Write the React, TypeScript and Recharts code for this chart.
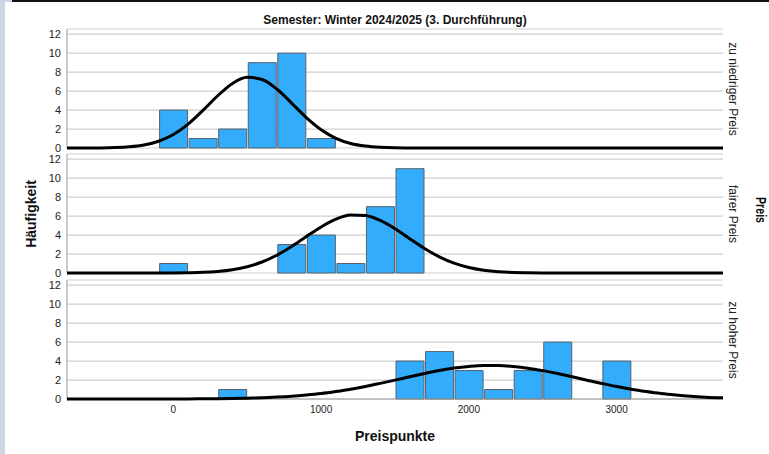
import { ComposedChart, LineChart, Bar, Line, XAxis, YAxis, CartesianGrid } from "recharts";

// bin centres (width 200) and counts per price group
const lowBins = [0, 200, 400, 600, 800, 1000];
const lowCounts = [4, 1, 2, 9, 10, 1];

const fairBins = [0, 800, 1000, 1200, 1400, 1600];
const fairCounts = [1, 3, 4, 1, 7, 11];

const highBins = [400, 1600, 1800, 2000, 2200, 2400, 2600, 3000];
const highCounts = [1, 4, 5, 3, 1, 3, 6, 4];

// normal curve overlay
const curveX = [
  -720, -600, -500, -400, -300, -200, -100, 0, 100, 200, 300, 400, 500, 600, 700,
  800, 900, 1000, 1100, 1200, 1300, 1400, 1500, 1600, 1700, 1800, 1900, 2000, 2100,
  2200, 2300, 2400, 2500, 2600, 2700, 2800, 2900, 3000, 3100, 3200, 3300, 3400, 3500,
  3600, 3720,
];
const lowCurve = [
  0, 0, 0.01, 0.04, 0.12, 0.31, 0.71, 1.42, 2.52, 3.96, 5.51, 6.81, 7.45, 7.23, 6.22,
  4.74, 3.2, 1.92, 1.02, 0.48, 0.2, 0.07, 0.02, 0.01, 0, 0, 0, 0, 0,
  0, 0, 0, 0, 0, 0, 0, 0, 0, 0, 0, 0, 0, 0,
  0, 0,
];
const fairCurve = [
  0, 0, 0, 0, 0, 0, 0, 0.01, 0.03, 0.07, 0.17, 0.35, 0.66, 1.16, 1.87,
  2.79, 3.84, 4.86, 5.68, 6.11, 6.06, 5.54, 4.67, 3.62, 2.59, 1.71, 1.04, 0.58, 0.3,
  0.14, 0.06, 0.03, 0.01, 0, 0, 0, 0, 0, 0, 0, 0, 0, 0,
  0, 0,
];
const highCurve = [
  0, 0, 0, 0, 0, 0, 0, 0.01, 0.01, 0.02, 0.03, 0.05, 0.09, 0.13, 0.2,
  0.29, 0.42, 0.58, 0.79, 1.03, 1.32, 1.65, 1.99, 2.35, 2.69, 3.0, 3.26, 3.44, 3.54,
  3.53, 3.43, 3.25, 2.99, 2.68, 2.34, 1.98, 1.64, 1.31, 1.02, 0.78, 0.57, 0.41, 0.28,
  0.19, 0.12,
];

const xTicks = [0, 1000, 2000, 3000];
const yTicks = [0, 2, 4, 6, 8, 10, 12];
const groupLabels = ["zu niedriger Preis", "fairer Preis", "zu hoher Preis"];

const FONT = '"Liberation Sans", Arial, Helvetica, sans-serif';
const X_DOMAIN: [number, number] = [-720, 3720];
const Y_DOMAIN: [number, number] = [0, 12.55];
const PLOT_H = 119;
const PAD = 8;
const AXIS_W = 67;
const AXIS_H = 30;

interface PanelProps {
  bins: number[];
  counts: number[];
  curve: number[];
  plotTop: number;
  showX: boolean;
}

function Panel({ bins, counts, curve, plotTop, showX }: PanelProps) {
  const bars = bins.map((x, i) => ({ x, count: counts[i] }));
  const fit = curveX.map((x, i) => ({ x, fit: curve[i] }));
  const h = PLOT_H + PAD + (showX ? AXIS_H : PAD);
  const bottom = showX ? 0 : PAD;
  return (
    <div style={{ position: "absolute", left: 0, top: plotTop - PAD, width: 769, height: h }}>
      {/* histogram + axes */}
      <div style={{ position: "absolute", left: 0, top: 0 }}>
        <ComposedChart
          width={769}
          height={h}
          data={bars}
          margin={{ top: PAD, right: 46, bottom, left: 0 }}
          style={{ fontFamily: FONT }}
        >
          <CartesianGrid vertical={false} stroke="#cfcfcf" strokeWidth={1.2} />
          <XAxis
            dataKey="x"
            type="number"
            domain={X_DOMAIN}
            allowDataOverflow
            ticks={xTicks}
            interval={0}
            hide={!showX}
            height={AXIS_H}
            axisLine={{ stroke: "#9a9a9a" }}
            tickLine={false}
            tickSize={5}
            tickMargin={2}
            tick={{ fontSize: 10, fill: "#222" }}
          />
          <YAxis
            type="number"
            domain={Y_DOMAIN}
            ticks={yTicks}
            interval={0}
            width={AXIS_W}
            axisLine={{ stroke: "#9a9a9a" }}
            tickLine={false}
            tickSize={4}
            tickMargin={2}
            tick={{ fontSize: 11, fill: "#222" }}
          />
          <Bar
            dataKey="count"
            barSize={28}
            fill="#33acfc"
            stroke="#56616c"
            strokeWidth={1}
            isAnimationActive={false}
          />
        </ComposedChart>
      </div>
      {/* normal curve, same scales, drawn on top */}
      <div style={{ position: "absolute", left: 0, top: 0 }}>
        <LineChart
          width={769}
          height={h}
          data={fit}
          margin={{ top: PAD, right: 46, bottom: showX ? AXIS_H : PAD, left: AXIS_W }}
        >
          <XAxis dataKey="x" type="number" domain={X_DOMAIN} allowDataOverflow hide />
          <YAxis type="number" domain={Y_DOMAIN} hide />
          <Line
            dataKey="fit"
            type="monotone"
            dot={false}
            activeDot={false}
            stroke="#000"
            strokeWidth={3}
            isAnimationActive={false}
          />
        </LineChart>
      </div>
    </div>
  );
}

const labelBase: React.CSSProperties = {
  position: "absolute",
  whiteSpace: "nowrap",
  lineHeight: 1,
  color: "#111",
};

export default function App() {
  const tops = [29, 154, 280];
  return (
    <div
      style={{
        position: "absolute",
        left: 0,
        top: 0,
        width: 769,
        height: 454,
        background: "#fff",
        fontFamily: FONT,
        overflow: "hidden",
      }}
    >
      <div style={{ position: "absolute", left: 0, top: 0, width: 5, height: 454, background: "#cdd6e6" }} />
      <div style={{ position: "absolute", left: 0, top: 0, width: 12, height: 2, background: "#cdd6e6" }} />
      <div style={{ position: "absolute", left: 12, top: 0, width: 757, height: 2, background: "#111" }} />

      <Panel bins={lowBins} counts={lowCounts} curve={lowCurve} plotTop={tops[0]} showX={false} />
      <Panel bins={fairBins} counts={fairCounts} curve={fairCurve} plotTop={tops[1]} showX={false} />
      <Panel bins={highBins} counts={highCounts} curve={highCurve} plotTop={tops[2]} showX={true} />

      <div
        style={{
          ...labelBase,
          left: 395,
          top: 20,
          fontSize: 12,
          fontWeight: 700,
          transform: "translate(-50%, -50%)",
        }}
      >
        Semester: Winter 2024/2025 (3. Durchführung)
      </div>
      <div
        style={{
          ...labelBase,
          left: 395,
          top: 436,
          fontSize: 14,
          fontWeight: 700,
          transform: "translate(-50%, -50%)",
        }}
      >
        Preispunkte
      </div>
      <div
        style={{
          ...labelBase,
          left: 31,
          top: 214,
          fontSize: 14,
          fontWeight: 700,
          transform: "translate(-50%, -50%) rotate(-90deg)",
        }}
      >
        Häufigkeit
      </div>
      <div
        style={{
          ...labelBase,
          left: 760.5,
          top: 210,
          fontSize: 14,
          fontWeight: 700,
          transform: "translate(-50%, -50%) rotate(90deg) scaleX(0.76)",
        }}
      >
        Preis
      </div>
      {groupLabels.map((g, i) => (
        <div
          key={g}
          style={{
            ...labelBase,
            left: 733,
            top: tops[i] + PLOT_H / 2,
            fontSize: 12,
            color: "#222",
            transform: "translate(-50%, -50%) rotate(90deg)",
          }}
        >
          {g}
        </div>
      ))}
    </div>
  );
}
